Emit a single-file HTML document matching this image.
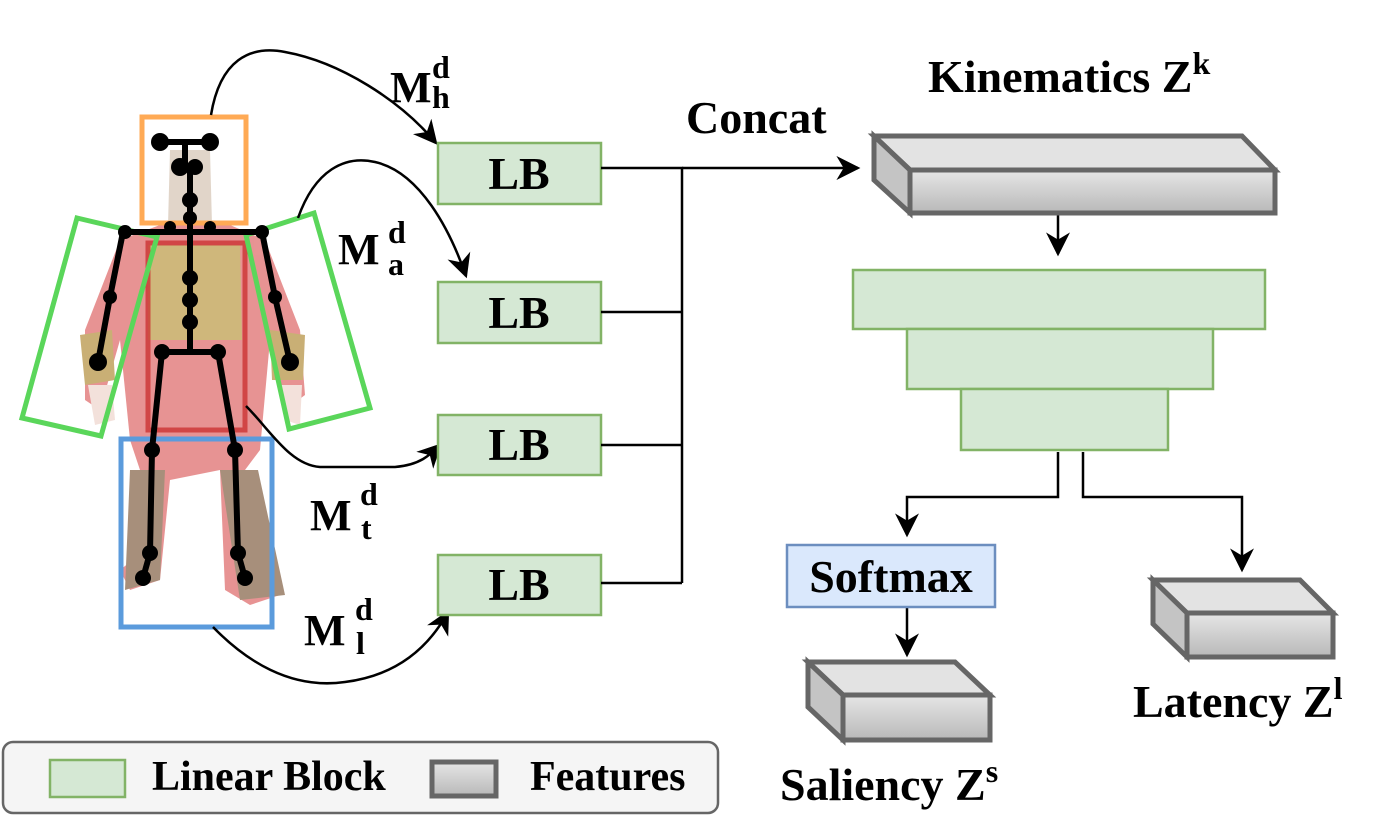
<!DOCTYPE html>
<html><head><meta charset="utf-8"><style>
body{margin:0;background:#fff}
svg{display:block}
text{font-family:"Liberation Serif",serif;font-weight:bold;fill:#000}
</style></head><body>
<svg width="1389" height="834" viewBox="0 0 1389 834" xmlns="http://www.w3.org/2000/svg">
<defs>
<marker id="b" viewBox="0 0 10 10" refX="9" refY="5" markerWidth="24" markerHeight="24" markerUnits="userSpaceOnUse" orient="auto"><path d="M0,0 L10,5 L0,10 L3,5 z" fill="#000"/></marker>
<linearGradient id="g" x1="0" y1="0" x2="0" y2="1"><stop offset="0" stop-color="#e6e6e6"/><stop offset="1" stop-color="#b8b8b8"/></linearGradient>
</defs>
<g opacity="0.75">
<path d="M120,240 L160,225 L230,225 L265,240 L300,330 L305,395 L285,410 L270,340 L260,450 L245,470 L255,560 L280,595 L250,605 L225,590 L220,470 L170,480 L160,580 L130,590 L120,570 L145,550 L140,470 L130,440 L120,340 L100,410 L85,400 L85,330 Z" fill="#e07070"/>
<path d="M148,245 L240,245 L242,340 L148,340 Z" fill="#c0a050"/>
<path d="M170,150 L210,150 L212,225 L168,225 Z" fill="#d8c8b8"/>
<path d="M80,335 L112,330 L115,380 L85,385 Z" fill="#b89548"/>
<path d="M270,330 L305,335 L303,380 L272,380 Z" fill="#b89548"/>
<path d="M130,470 L165,470 L160,580 L125,590 Z" fill="#8a6a50"/>
<path d="M220,470 L258,470 L285,595 L240,600 Z" fill="#8a6a50"/>
<path d="M88,385 L112,385 L115,420 L95,425 Z" fill="#f0d8d0"/>
<path d="M280,385 L302,385 L300,425 L285,420 Z" fill="#f0d8d0"/>
</g>
<rect x="142" y="117" width="104" height="106" fill="none" stroke="#ffaa55" stroke-width="5"/>
<rect x="148" y="243" width="97" height="187" fill="none" stroke="#cc3333" stroke-width="5" opacity="0.8"/>
<polygon points="77,218 157,237 101,436 22,418" fill="none" stroke="#5ad65a" stroke-width="5"/>
<polygon points="246,235 314,213 370,408 289,429" fill="none" stroke="#5ad65a" stroke-width="5"/>
<rect x="121" y="439" width="151" height="188" fill="none" stroke="#5b9bdc" stroke-width="5"/>
<g stroke="#000" stroke-width="6" fill="none">
<path d="M160,142 H210 M185,142 V167 M190,167 V355 M123,232 H262 M123,232 L110,297 L98,362 M262,232 L275,297 L290,362 M162,352 H218 M162,352 L152,450 L150,553 L143,578 M218,352 L235,450 L238,553 L245,578"/>
</g>
<g fill="#000">
<circle cx="160" cy="142" r="9"/><circle cx="210" cy="142" r="9"/><circle cx="180" cy="167" r="9"/><circle cx="195" cy="167" r="8"/>
<circle cx="190" cy="200" r="8"/><circle cx="190" cy="218" r="7"/>
<circle cx="125" cy="232" r="7"/><circle cx="262" cy="232" r="7"/><circle cx="210" cy="227" r="6"/><circle cx="170" cy="227" r="6"/>
<circle cx="190" cy="278" r="8"/><circle cx="190" cy="300" r="8"/><circle cx="190" cy="322" r="8"/>
<circle cx="162" cy="352" r="8"/><circle cx="218" cy="352" r="8"/>
<circle cx="110" cy="297" r="7"/><circle cx="98" cy="362" r="9"/><circle cx="275" cy="297" r="7"/><circle cx="290" cy="362" r="9"/>
<circle cx="152" cy="450" r="8"/><circle cx="235" cy="450" r="8"/><circle cx="150" cy="553" r="8"/><circle cx="238" cy="553" r="8"/>
<circle cx="143" cy="578" r="8"/><circle cx="245" cy="578" r="8"/>
</g>
<g stroke="#000" stroke-width="2.5" fill="none" marker-end="url(#b)">
<path d="M211,115 C220,60 250,45 285,52 C340,62 400,100 436,143"/>
<path d="M298,218 C315,170 345,155 375,162 C420,172 450,230 466,276"/>
<path d="M246,406 C270,430 290,465 320,467 L395,467 C420,465 430,455 440,445"/>
<path d="M213,627 C245,660 290,690 345,682 C400,675 430,645 448,612"/>
</g>
<g fill="#d5e8d4" stroke="#82b366" stroke-width="2.5">
<rect x="438" y="143" width="163" height="61"/>
<rect x="438" y="282" width="163" height="61"/>
<rect x="438" y="415" width="163" height="60"/>
<rect x="438" y="555" width="163" height="60"/>
</g>
<g font-size="46" text-anchor="middle">
<text x="519" y="189">LB</text><text x="519" y="328">LB</text><text x="519" y="460">LB</text><text x="519" y="600">LB</text>
</g>
<g stroke="#000" stroke-width="2.5" fill="none">
<path d="M601,168 H682 V583 M601,312 H682 M601,445 H682 M601,583 H682"/>
<path d="M682,168 H858" marker-end="url(#b)"/>
<path d="M1058,213 V254" marker-end="url(#b)"/>
<path d="M1058,452 V497 H907 V535" marker-end="url(#b)"/>
<path d="M1083,452 V497 H1242 V570" marker-end="url(#b)"/>
<path d="M907,607 V655" marker-end="url(#b)"/>
</g>
<g stroke="#666" stroke-width="5">
<polygon points="874,136 1242,136 1275,170 910,170" fill="#e3e3e3"/>
<polygon points="874,136 910,170 910,213 874,180" fill="#c4c4c4"/>
<rect x="910" y="170" width="365" height="43" fill="url(#g)"/>
</g>
<g fill="#d5e8d4" stroke="#82b366" stroke-width="2.5">
<rect x="853" y="270" width="412" height="59"/>
<rect x="907" y="329" width="306" height="60"/>
<rect x="961" y="389" width="207" height="61"/>
</g>
<rect x="787" y="545" width="208" height="62" fill="#dae8fc" stroke="#6c8ebf" stroke-width="2.5"/>
<text x="891" y="592" font-size="46" text-anchor="middle">Softmax</text>
<g stroke="#666" stroke-width="5">
<polygon points="1153,580 1300,580 1333,613 1187,613" fill="#e3e3e3"/>
<polygon points="1153,580 1187,613 1187,657 1153,624" fill="#c4c4c4"/>
<rect x="1187" y="613" width="146" height="44" fill="url(#g)"/>
</g>
<g stroke="#666" stroke-width="5">
<polygon points="808,662 955,662 990,695 843,695" fill="#e3e3e3"/>
<polygon points="808,662 843,695 843,740 808,707" fill="#c4c4c4"/>
<rect x="843" y="695" width="147" height="45" fill="url(#g)"/>
</g>
<text x="928" y="92" font-size="46">Kinematics Z<tspan font-size="32" dy="-18">k</tspan></text>
<text x="686" y="133" font-size="46">Concat</text>
<text x="1133" y="717" font-size="46">Latency Z<tspan font-size="32" dy="-18">l</tspan></text>
<text x="780" y="800" font-size="46">Saliency Z<tspan font-size="32" dy="-18">s</tspan></text>
<g font-size="44">
<text x="390" y="102">M</text><text x="432" y="78" font-size="32">d</text><text x="432" y="108" font-size="32">h</text>
<text x="338" y="264">M</text><text x="388" y="243" font-size="32">d</text><text x="388" y="275" font-size="32">a</text>
<text x="310" y="530">M</text><text x="360" y="505" font-size="32">d</text><text x="361" y="539" font-size="32">t</text>
<text x="304" y="645">M</text><text x="355" y="620" font-size="32">d</text><text x="356" y="654" font-size="32">l</text>
</g>
<rect x="3" y="742" width="715" height="71" rx="10" fill="#f5f5f5" stroke="#666" stroke-width="2.5"/>
<rect x="50" y="760" width="75" height="37" fill="#d5e8d4" stroke="#82b366" stroke-width="2.5"/>
<text x="152" y="790" font-size="42">Linear Block</text>
<rect x="432" y="762" width="64" height="34" fill="url(#g)" stroke="#666" stroke-width="5"/>
<text x="530" y="790" font-size="42">Features</text>
</svg>
</body></html>
